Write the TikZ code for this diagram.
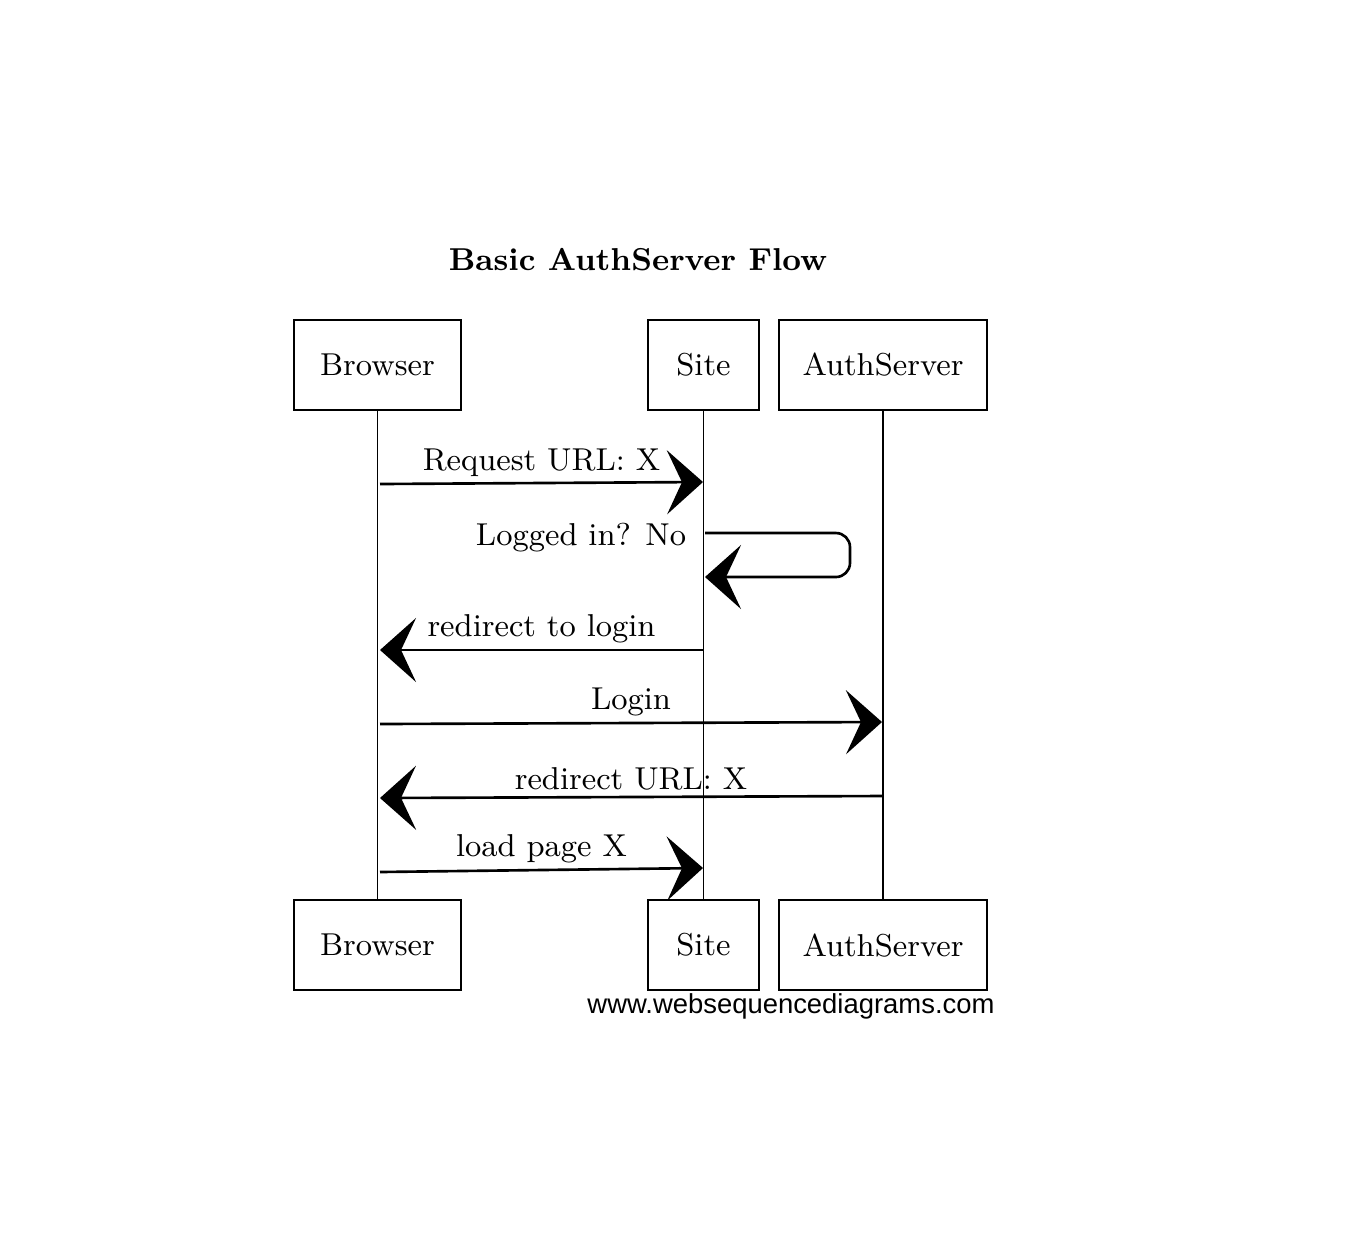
\documentclass[tikz,border=0pt]{standalone}
\usepackage{fontspec}
\newfontfamily\footfont{Liberation Sans}
\usetikzlibrary{arrows.meta}
\tikzset{
        actor/.style={draw=black, line width=0.6pt, minimum height=0.9cm, inner sep=0pt, font=\fontsize{9}{11}\selectfont},
        life/.style={line width=0.4pt},
        msg/.style={line width=0.75pt, -{Stealth[length=3.6mm, width=6.4mm, inset=1.5mm]}},
        lbl/.style={font=\fontsize{9}{11}\selectfont, inner sep=1pt},
        heading/.style={font=\fontsize{9}{12}\selectfont\bfseries},
        credit/.style={font=\fontsize{7.8}{9}\selectfont\footfont}
          }
\begin{document}
\begin{tikzpicture}[x=0.01cm, y=-0.01cm]
        \useasboundingbox (0,0) rectangle (1354,1232);
        \node[heading] (title) at (638,260) {Basic AuthServer Flow};

        \node[actor, minimum width=1.67cm] (browserTop) at (377.5,365) {Browser};
        \node[actor, minimum width=1.11cm] (siteTop) at (703.5,365) {Site};
        \node[actor, minimum width=2.08cm] (authTop) at (883,365) {AuthServer};
        \node[actor, minimum width=1.67cm] (browserBot) at (377.5,945) {Browser};
        \node[actor, minimum width=1.11cm] (siteBot) at (703.5,945) {Site};
        \node[actor, minimum width=2.08cm] (authBot) at (883,945) {AuthServer};

        \draw[life] (browserTop.south) -- (browserBot.north);
        \draw[life] (siteTop.south) -- (siteBot.north);
        \draw[life] (authTop.south) -- (authBot.north);

        \coordinate (b1) at (380,484);
        \coordinate (s1) at (703,482);
        \coordinate (s2) at (705,533);
        \coordinate (loop) at (850,577);
        \coordinate (s2r) at (705,577);
        \coordinate (s3) at (703,650);
        \coordinate (b3) at (380,650);
        \coordinate (b4) at (380,724);
        \coordinate (a4) at (882,722);
        \coordinate (a5) at (882,796);
        \coordinate (b5) at (380,798);
        \coordinate (b6) at (380,872);
        \coordinate (s6) at (703,868);

        \draw[msg] (b1) -- node[lbl, above=0.5pt] {Request URL: X} (s1);
        \draw[msg, rounded corners=4pt] (s2) node[lbl, left=4pt, yshift=-0.5mm] {Logged in? No} -| (loop) -- (s2r);
        \draw[msg] (s3) -- node[lbl, above=0.5pt] {redirect to login} (b3);
        \draw[msg] (b4) -- node[lbl, above=0.5pt] {Login} (a4);
        \draw[msg] (a5) -- node[lbl, above=0.5pt] {redirect URL: X} (b5);
        \draw[msg] (b6) -- node[lbl, above=0.5pt] {load page X} (s6);

        \node[credit] (footer) at (791,1006) {www.websequencediagrams.com};
\end{tikzpicture}
\end{document}
